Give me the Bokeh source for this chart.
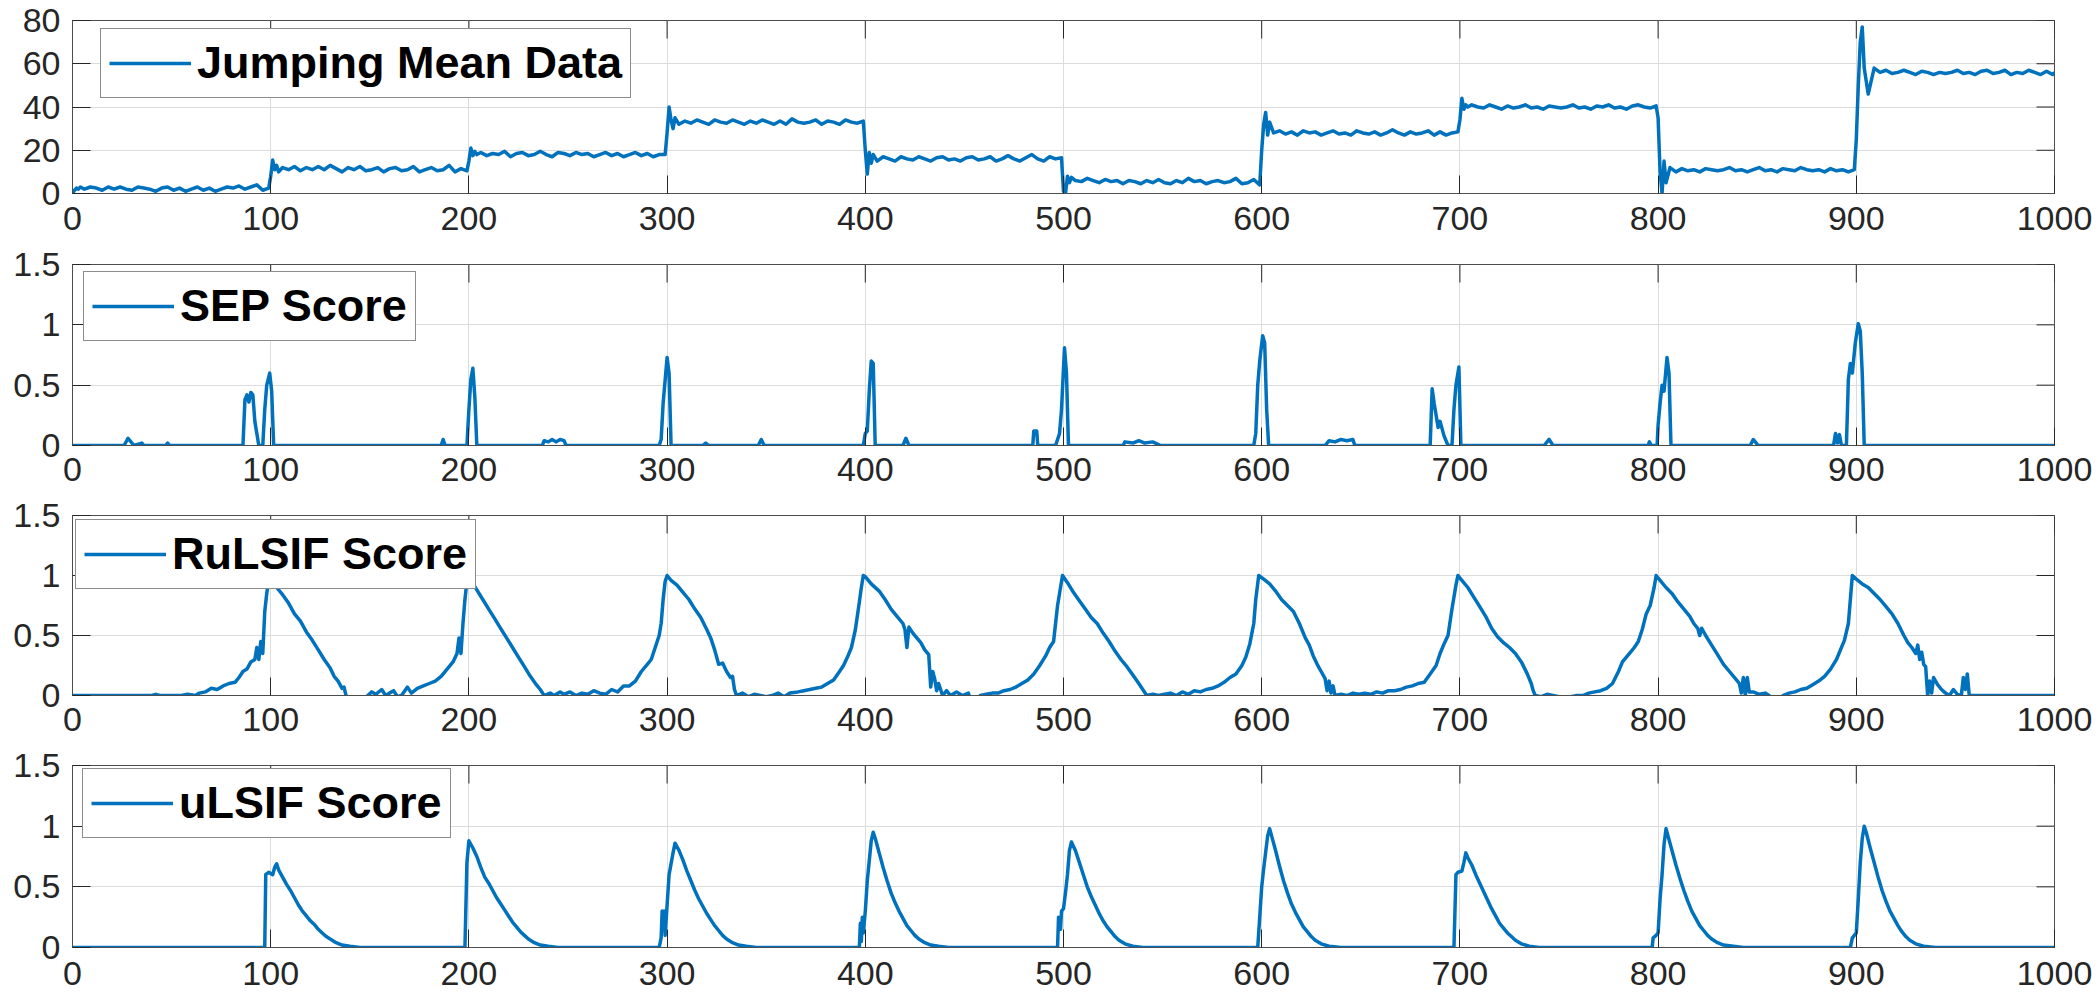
import math
from bokeh.plotting import figure
from bokeh.layouts import column
from bokeh.models import Range1d, FixedTicker, NumeralTickFormatter, Legend, LegendItem
from bokeh.embed import file_html
from bokeh.resources import INLINE

# ---------------- data ----------------
X_TICKS = [0, 100, 200, 300, 400, 500, 600, 700, 800, 900, 1000]
Y_TICKS_DATA = [0, 20, 40, 60, 80]
Y_TICKS_SCORE = [0, 0.5, 1, 1.5]

# Jumping mean data: sample offsets inside each 100-long segment, and the values read per segment
JM_STARTS = [0, 100, 200, 300, 400, 500, 600, 700, 800, 900]
JM_OFFSETS = [0, 1, 2, 3, 4, 6, 9, 12, 15, 18, 21, 24, 27, 30, 33, 36, 39, 42, 45, 48,
              51, 54, 57, 60, 63, 66, 69, 72, 75, 78, 81, 84, 87, 90, 93, 96, 99]
JM_SEG0 = [0, 1.5, 2.5, 2, 3, 2, 3, 2.5, 1.5, 3, 2, 3, 2, 1.5, 3, 2.5, 2, 1, 2.5, 3,
           1.5, 2.5, 1, 2, 3, 1.5, 2.5, 1, 2, 3, 2.5, 3.5, 2, 3, 4, 1.5, 2.5]
JM_SEG1 = [8, 15.5, 11, 13, 10, 12, 11, 12.5, 10.5, 12, 11, 12.5, 11, 13, 11.5, 10, 12, 11, 12.5, 10.5,
           11, 12, 10, 11.5, 12, 10.5, 11, 12.5, 10, 11, 12, 10.5, 11, 13, 10, 11.5, 10.5]
JM_SEG2 = [15, 21, 17.5, 19.5, 18, 19, 17.5, 18.5, 18, 19.5, 17, 18.5, 19, 17.5, 18, 19.5, 18, 17, 19, 18.5,
           17.5, 19, 18, 18.5, 17, 18, 19, 17.5, 18.5, 17, 18, 19, 17.5, 18.5, 17, 18, 18]
JM_SEG3 = [28, 40, 34, 30, 35, 32, 33.5, 32.5, 34, 33, 32, 34, 33, 32.5, 34, 33, 32, 33.5, 32.5, 34,
           33, 32, 33.5, 32, 34.5, 33, 32.5, 33, 34, 32, 33.5, 33, 32, 34, 33, 32.5, 33.5]
JM_SEG4 = [20, 9, 19, 14, 18, 15, 17, 16, 15, 17, 16, 15.5, 17, 16, 15, 16.5, 17, 15.5, 16, 15,
           16.5, 17, 15.5, 16, 17, 15, 16, 17.5, 16, 15, 16.5, 18, 16, 15, 17, 16, 16.5]
JM_SEG5 = [1, 0, 8, 5, 7.5, 6, 5.5, 7, 6, 5, 6.5, 5.5, 6, 4.5, 6, 5.5, 4.5, 6, 5, 6.5,
           5, 4.5, 6, 5, 7, 5.5, 6, 4.5, 5.5, 6, 5, 5.5, 7, 4.5, 5, 6.5, 4]
JM_SEG6 = [20, 32, 37.5, 27, 33, 28, 29, 27.5, 28.5, 27, 29, 28, 28.5, 27, 28, 29, 27.5, 28, 27, 29,
           28, 27.5, 28.5, 27, 28, 29.5, 28, 27, 28.5, 27.5, 28, 29, 27, 28.5, 27, 28, 28.5]
JM_SEG7 = [34, 44, 39, 41, 40, 41, 40, 39.5, 41, 40, 39, 40.5, 39.5, 40, 41, 39.5, 40, 39, 40.5, 40,
           39.5, 40, 41, 39.5, 40, 39, 40.5, 40, 41, 39.5, 40, 39, 40.5, 41, 40, 39.5, 40.5]
JM_SEG8 = [35, 10, 0, 15, 5, 12, 10, 11.5, 10.5, 11, 10, 11.5, 11, 10.5, 11, 12, 10.5, 11, 10, 11,
           12, 10.5, 11, 10, 11.5, 11, 10.5, 12, 11, 10.5, 11, 10, 11.5, 10.5, 11, 10, 11]
JM_SEG9 = [25, 50, 70, 77, 58, 46, 58, 56, 57, 55.5, 56, 57, 56, 55, 56.5, 56, 55, 56, 55.5, 56,
           57, 55.5, 56, 55, 56.5, 57, 55.5, 56, 57, 55, 56, 55.5, 57, 56, 55, 56.5, 55]
JM_LAST = (1000, 56)

SEP_X = [0, 26, 28, 30, 31, 35, 36, 37, 47, 48, 49, 86, 87, 88, 89, 90, 91, 92, 94, 96, 97, 98,
         99.5, 100.5, 101.5, 186, 187, 188, 199, 200, 201, 202, 203, 204, 237, 238, 240, 242,
         244, 246, 248, 249, 296, 297, 298, 300, 301, 302, 318, 319.5, 321, 346, 347.5, 349,
         399, 400, 401, 402, 403, 404, 405, 419, 420.5, 422, 484.5, 485, 486.5, 487, 496, 497,
         498, 499, 500.5, 501.5, 502.5, 530, 531, 535, 538, 541, 545, 549, 596, 597, 598, 599,
         600.5, 601.5, 602.5, 603.5, 632, 634, 637, 640, 643, 646, 647, 685, 686, 687, 689,
         690, 692, 694, 696, 697, 698, 699.5, 700.5, 742.5, 745, 747, 795, 795.6, 796.5, 799.5,
         800, 801, 802, 803, 804.5, 805.5, 806.5, 846.5, 848, 850.5, 888.5, 889.5, 890.5, 891.5,
         892.5, 895, 896, 897, 898, 899.5, 901, 902, 903, 904, 1000]
SEP_Y = [0, 0, 0.06, 0.02, 0, 0.02, 0, 0, 0, 0.02, 0, 0, 0.38, 0.42, 0.36, 0.44, 0.42, 0.2, 0, 0, 0.3, 0.5,
         0.6, 0.45, 0, 0, 0.05, 0, 0, 0.3, 0.55, 0.64, 0.4, 0, 0, 0.04, 0.03, 0.05,
         0.03, 0.05, 0.04, 0, 0, 0.05, 0.35, 0.73, 0.6, 0, 0, 0.02, 0, 0, 0.05, 0,
         0, 0.1, 0.12, 0.45, 0.7, 0.68, 0, 0, 0.06, 0, 0, 0.12, 0.12, 0, 0, 0.05,
         0.1, 0.3, 0.81, 0.6, 0, 0, 0.03, 0.02, 0.04, 0.02, 0.03, 0, 0, 0.1, 0.5, 0.7,
         0.91, 0.85, 0.3, 0, 0, 0.04, 0.03, 0.05, 0.04, 0.05, 0, 0, 0.47, 0.35, 0.15,
         0.2, 0.08, 0, 0, 0.3, 0.5, 0.65, 0, 0, 0.05, 0, 0, 0.03, 0, 0,
         0.17, 0.35, 0.5, 0.45, 0.73, 0.6, 0, 0, 0.05, 0, 0, 0.1, 0.02, 0.09,
         0, 0, 0.55, 0.68, 0.6, 0.85, 1.01, 0.95, 0.6, 0, 0]

RU_X = [0, 40, 42, 44, 55, 58, 62, 64, 67, 70, 73, 76, 79, 82, 84, 86, 88, 90, 92, 93, 94, 95, 96,
        97, 98, 99, 100, 101, 103, 106, 109, 112, 115, 118, 121, 124, 127, 130, 132, 134, 136,
        137, 138, 140, 147, 149, 151, 153, 156, 158, 160, 162, 164, 166, 169, 171, 174, 177,
        180, 183, 186, 189, 192, 194, 195, 196, 197, 198, 199, 200,
        201, 204, 207, 210, 213, 216, 219, 222, 225, 228, 231, 234, 236, 238, 241, 243, 246,
        248, 251, 254, 257, 260, 263, 266, 269, 272, 275, 278, 281, 284, 287, 290, 292, 294,
        296, 297, 298, 299, 300,
        302, 305, 308, 311, 314, 317, 320, 322, 324, 326, 328, 330, 332, 333, 334, 335, 338,
        341, 344, 347, 350, 353, 356, 359, 362, 366, 369, 372, 375, 378, 381, 384, 387, 389,
        391, 393, 395, 397, 398, 399, 400,
        403, 407, 410, 413, 416, 419, 420, 421, 422, 424, 426, 428, 430, 432, 433, 434, 435,
        436, 437, 439, 441, 443, 446, 449, 452, 453, 457, 458, 461, 464, 467, 470, 473, 476,
        479, 482, 485, 488, 491, 493, 495, 497, 498, 499.5,
        502, 505, 508, 511, 514, 517, 520, 523, 526, 529, 532, 535, 538, 540, 542, 545, 548,
        551, 554, 557, 560, 563, 566, 569, 572, 575, 578, 581, 584, 587, 590, 592, 594, 596,
        597, 598.5,
        601, 604, 607, 610, 613, 616, 619, 622, 624, 626, 628, 630, 632, 633, 634, 635, 636,
        637, 640, 643, 646, 649, 652, 655, 658, 661, 664, 667, 670, 673, 676, 679, 682, 685,
        688, 690, 692, 694, 696, 698, 699,
        701, 704, 707, 710, 713, 716, 719, 722, 725, 728, 731, 734, 736, 737, 738, 741, 744,
        747, 750, 753, 756, 759, 762, 765, 768, 771, 774, 777, 780, 782, 784, 786, 788, 790,
        792, 794, 796, 798, 799,
        801, 804, 807, 810, 813, 816, 818, 820, 821, 822, 824, 827, 830, 833, 836, 839, 841,
        842, 843, 844, 845, 846, 848, 851, 854, 856, 857, 862, 863, 866, 869, 872, 875, 878,
        881, 884, 887, 890, 892, 894, 896, 897, 898,
        900, 903, 906, 909, 912, 915, 918, 921, 924, 926, 928, 930, 931, 932, 933, 934, 935,
        936, 937, 938, 939, 941, 943, 945, 947, 949, 951, 953, 954, 955, 956, 957, 960, 1000]
RU_Y = [0, 0, 0.01, 0, 0, 0.01, 0, 0.02, 0.03, 0.06, 0.05, 0.08, 0.1, 0.11, 0.15, 0.2, 0.22, 0.28, 0.3,
        0.4, 0.3, 0.45, 0.35, 0.7, 0.85, 0.96, 1.0, 0.95, 0.9, 0.84, 0.77, 0.68, 0.62, 0.53,
        0.46, 0.38, 0.3, 0.23, 0.16, 0.12, 0.06, 0.07, 0, -0.03, -0.03, 0, 0.03, 0.01, 0.05,
        0.0, 0.02, 0.04, -0.01, 0.0, 0.07, 0.02, 0.06, 0.08, 0.1, 0.12, 0.16, 0.22, 0.28,
        0.35, 0.48, 0.35, 0.6, 0.8, 0.95, 1.0,
        0.96, 0.88, 0.8, 0.72, 0.64, 0.56, 0.48, 0.4, 0.32, 0.24, 0.16, 0.09, 0.05, 0, 0.02,
        0, 0.03, 0.01, 0.03, 0, 0.02, 0.01, 0.04, 0.02, 0.01, 0.05, 0.03, 0.08, 0.08, 0.12,
        0.2, 0.26, 0.3, 0.4, 0.5, 0.6, 0.8, 0.95, 1.0,
        0.96, 0.92, 0.86, 0.8, 0.72, 0.65, 0.55, 0.48, 0.38, 0.26, 0.27, 0.2, 0.15, 0.16,
        0.05, 0, 0.02, -0.01, 0.01, 0.0, -0.01, 0.0, 0.02, -0.01, 0.02, 0.03, 0.04, 0.05,
        0.06, 0.07, 0.1, 0.13, 0.2, 0.25, 0.32, 0.4, 0.55, 0.78, 0.9, 1.0, 0.99,
        0.93, 0.87, 0.8, 0.72, 0.66, 0.6, 0.55, 0.4, 0.57, 0.52, 0.48, 0.44, 0.38, 0.34,
        0.07, 0.2, 0.14, 0.04, 0.1, 0, 0.04, 0.0, 0.03, 0, 0.02, -0.03, -0.03, 0.0, 0.01,
        0.02, 0.02, 0.04, 0.05, 0.07, 0.1, 0.13, 0.18, 0.25, 0.33, 0.4, 0.45, 0.75, 0.85, 1.0,
        0.94, 0.86, 0.79, 0.72, 0.65, 0.6, 0.52, 0.45, 0.37, 0.3, 0.24, 0.17, 0.1, 0.05, 0,
        0.01, 0, 0.01, 0.02, 0, 0.03, 0.01, 0.04, 0.03, 0.05, 0.06, 0.08, 0.11, 0.15, 0.18,
        0.25, 0.32, 0.43, 0.6, 0.8, 1.0,
        0.97, 0.93, 0.87, 0.8, 0.75, 0.7, 0.6, 0.48, 0.42, 0.33, 0.26, 0.2, 0.14, 0.04, 0.12,
        0.02, 0.08, 0, 0.01, 0.0, 0.02, 0.01, 0.02, 0.01, 0.03, 0.02, 0.04, 0.04, 0.05, 0.07,
        0.08, 0.1, 0.11, 0.18, 0.25, 0.35, 0.43, 0.5, 0.72, 0.92, 1.0,
        0.96, 0.9, 0.82, 0.74, 0.66, 0.56, 0.49, 0.44, 0.4, 0.35, 0.28, 0.18, 0.1, 0.04, 0,
        -0.01, 0.01, 0.0, -0.01, -0.02, -0.01, 0, 0.0, 0.02, 0.03, 0.04, 0.06, 0.1, 0.2, 0.28,
        0.32, 0.36, 0.4, 0.45, 0.55, 0.68, 0.75, 0.9, 1.0,
        0.96, 0.9, 0.85, 0.78, 0.72, 0.66, 0.6, 0.56, 0.5, 0.56, 0.5, 0.42, 0.34, 0.26, 0.2,
        0.14, 0.1, 0.02, 0.15, 0.0, 0.15, 0.03, 0.03, 0.01, 0.02, 0.0, -0.03, -0.03, 0, 0.02,
        0.03, 0.05, 0.06, 0.09, 0.12, 0.16, 0.22, 0.3, 0.38, 0.46, 0.6, 0.8, 1.0,
        0.97, 0.93, 0.9, 0.85, 0.8, 0.74, 0.68, 0.6, 0.5, 0.44, 0.4, 0.35, 0.42, 0.3, 0.36,
        0.26, 0.24, 0.0, 0.12, 0.02, 0.15, 0.09, 0.05, 0.02, 0.0, 0.05, 0.01, 0.0, 0.15, 0.05,
        0.18, 0.0, 0, 0]

UL_X = [0, 97, 97.5, 99, 101, 102, 103, 104, 106, 108, 110, 112, 114, 116, 118, 120, 122, 124,
        126, 128, 130, 133, 136, 140, 145,
        198, 199, 200, 202, 204, 206, 208, 210, 212, 214, 216, 218, 220, 222, 224, 226, 228,
        230, 233, 236, 240, 245,
        296, 297, 297.5, 298, 298.5, 299, 300, 301, 303, 304, 306, 308, 310, 312, 314, 316,
        318, 320, 322, 324, 326, 328, 330, 333, 336, 340, 345,
        397, 397.5, 398, 398.5, 399, 400, 401, 403, 404, 405, 407, 409, 411, 413, 415, 417,
        419, 421, 423, 425, 427, 430, 433, 437, 442,
        497, 497.5, 498.5, 499, 500, 501, 502, 503, 504, 506, 508, 510, 512, 514, 516, 518,
        520, 522, 524, 526, 528, 531, 535, 540,
        598, 599, 600, 601, 603, 604, 605, 607, 609, 611, 613, 615, 617, 619, 621, 623, 625,
        627, 630, 634, 640,
        697, 698, 699, 701, 702, 703, 704, 706, 708, 710, 712, 714, 716, 718, 720, 722, 724,
        726, 728, 731, 735, 740,
        797, 797.5, 799, 800, 801, 802, 803, 804, 805, 807, 809, 811, 813, 815, 817, 819, 821,
        823, 825, 827, 830, 833, 838, 843,
        897, 898, 899, 900, 901, 902, 903, 904, 905, 907, 909, 911, 913, 915, 917, 919, 921,
        923, 925, 927, 930, 934, 940, 1000]
UL_Y = [0, 0, 0.6, 0.62, 0.6, 0.66, 0.69, 0.64, 0.58, 0.52, 0.47, 0.41, 0.35, 0.3, 0.26, 0.22,
        0.19, 0.15, 0.12, 0.09, 0.07, 0.04, 0.02, 0.01, 0,
        0, 0.7, 0.88, 0.82, 0.75, 0.66, 0.58, 0.53, 0.47, 0.41, 0.36, 0.31, 0.26, 0.21, 0.17,
        0.13, 0.1, 0.07, 0.04, 0.02, 0.01, 0,
        0, 0.08, 0.3, 0.15, 0.3, 0.1, 0.35, 0.6, 0.78, 0.86, 0.8, 0.72, 0.63, 0.55, 0.47, 0.4,
        0.34, 0.28, 0.23, 0.18, 0.14, 0.1, 0.07, 0.04, 0.02, 0.01, 0,
        0, 0.2, 0.05, 0.25, 0.12, 0.3, 0.55, 0.88, 0.95, 0.9, 0.78, 0.66, 0.55, 0.45, 0.37,
        0.3, 0.24, 0.18, 0.14, 0.1, 0.07, 0.04, 0.02, 0.01, 0,
        0, 0.25, 0.15, 0.3, 0.32, 0.45, 0.6, 0.8, 0.87, 0.8, 0.7, 0.6, 0.5, 0.42, 0.35, 0.28,
        0.22, 0.17, 0.13, 0.09, 0.06, 0.03, 0.01, 0,
        0, 0.25, 0.5, 0.65, 0.92, 0.98, 0.92, 0.8, 0.67, 0.55, 0.45, 0.36, 0.29, 0.23, 0.17,
        0.13, 0.09, 0.06, 0.03, 0.01, 0,
        0, 0.6, 0.62, 0.63, 0.7, 0.78, 0.74, 0.68, 0.6, 0.53, 0.46, 0.39, 0.32, 0.26, 0.2,
        0.16, 0.12, 0.09, 0.06, 0.03, 0.01, 0,
        0, 0.08, 0.1, 0.12, 0.4, 0.6, 0.85, 0.98, 0.92, 0.8, 0.68, 0.57, 0.47, 0.38, 0.3,
        0.24, 0.18, 0.14, 0.1, 0.07, 0.04, 0.02, 0.01, 0,
        0, 0.08, 0.1, 0.12, 0.4, 0.7, 0.9, 1.0, 0.95, 0.82, 0.7, 0.58, 0.47, 0.38, 0.3, 0.24,
        0.18, 0.13, 0.09, 0.06, 0.03, 0.01, 0, 0]

# ---------------- assemble jumping-mean series ----------------
JM_SEGS = [JM_SEG0, JM_SEG1, JM_SEG2, JM_SEG3, JM_SEG4, JM_SEG5, JM_SEG6, JM_SEG7, JM_SEG8, JM_SEG9]
JM_X, JM_Y = [], []
for start, seg in zip(JM_STARTS, JM_SEGS):
    for off, v in zip(JM_OFFSETS, seg):
        JM_X.append(start + off)
        JM_Y.append(v)
JM_X.append(JM_LAST[0])
JM_Y.append(JM_LAST[1])

# ---------------- styling ----------------
BLUE = "#0072BD"
FONT = "Liberation Sans"
TICK_COLOR = "#262626"
BOX_COLOR = "#4d4d4d"
GRID_COLOR = "#dcdcdc"
W = 2092
TICK_LEN = 18


def make_panel(xs, ys, label, yr, yticks, fmt, height, top, bottom, leg_xy, standoff):
    p = figure(width=W, height=height, output_backend="svg", toolbar_location=None,
               x_range=Range1d(0, 1000), y_range=Range1d(*yr),
               min_border_left=72, min_border_right=38,
               min_border_top=top, min_border_bottom=bottom,
               background_fill_color="white", border_fill_color="white")
    p.outline_line_color = BOX_COLOR
    p.outline_line_width = 1

    p.xaxis.ticker = FixedTicker(ticks=X_TICKS)
    p.yaxis.ticker = FixedTicker(ticks=yticks)
    if fmt is not None:
        p.yaxis.formatter = fmt
    p.xgrid.ticker = FixedTicker(ticks=X_TICKS)
    p.ygrid.ticker = FixedTicker(ticks=yticks)
    p.grid.grid_line_color = GRID_COLOR
    p.grid.grid_line_width = 1

    for ax in (p.xaxis[0], p.yaxis[0]):
        ax.major_tick_in = TICK_LEN
        ax.major_tick_out = 0
        ax.minor_tick_line_color = None
        ax.axis_line_color = BOX_COLOR
        ax.major_tick_line_color = TICK_COLOR
        ax.major_label_text_font = FONT
        ax.major_label_text_font_size = "34px"
        ax.major_label_text_color = TICK_COLOR
    p.xaxis[0].major_label_standoff = standoff
    p.yaxis[0].major_label_standoff = 12

    # inward tick marks on the top and right edges of the box (MATLAB "box on")
    p.scatter(x=X_TICKS, y=[yr[1]] * len(X_TICKS), marker="dash", angle=math.pi / 2,
              size=2 * TICK_LEN, line_color=TICK_COLOR, line_width=1)
    p.scatter(x=[1000] * len(yticks), y=yticks, marker="dash",
              size=2 * TICK_LEN, line_color=TICK_COLOR, line_width=1)

    r = p.line(xs, ys, line_color=BLUE, line_width=3.5, line_join="round")

    leg = Legend(items=[LegendItem(label=label, renderers=[r])], location=leg_xy,
                 label_text_font=FONT, label_text_font_style="bold",
                 label_text_font_size="45px", label_text_color="black",
                 border_line_color="#1a1a1a", border_line_width=1,
                 background_fill_color="white", background_fill_alpha=1,
                 padding=8, glyph_width=82, glyph_height=40, label_standoff=6,
                 label_height=40, margin=0)
    p.add_layout(leg)
    return p


score_fmt = NumeralTickFormatter(format="0.[0]")

p1 = make_panel(JM_X, JM_Y, "Jumping Mean Data", (0, 80), Y_TICKS_DATA, None,
                244, 20, 51, (28, 95), 13)
p2 = make_panel(SEP_X, SEP_Y, "SEP Score", (0, 1.5), Y_TICKS_SCORE, score_fmt,
                251, 20, 50, (11, 104), 12)
p3 = make_panel(RU_X, RU_Y, "RuLSIF Score", (0, 1.5), Y_TICKS_SCORE, score_fmt,
                250, 20, 50, (3, 106), 12)
p4 = make_panel(UL_X, UL_Y, "uLSIF Score", (0, 1.5), Y_TICKS_SCORE, score_fmt,
                256, 20, 54, (10, 109), 14)

layout = column(p1, p2, p3, p4, spacing=0)
open("out.html", "w").write(file_html(layout, INLINE))
